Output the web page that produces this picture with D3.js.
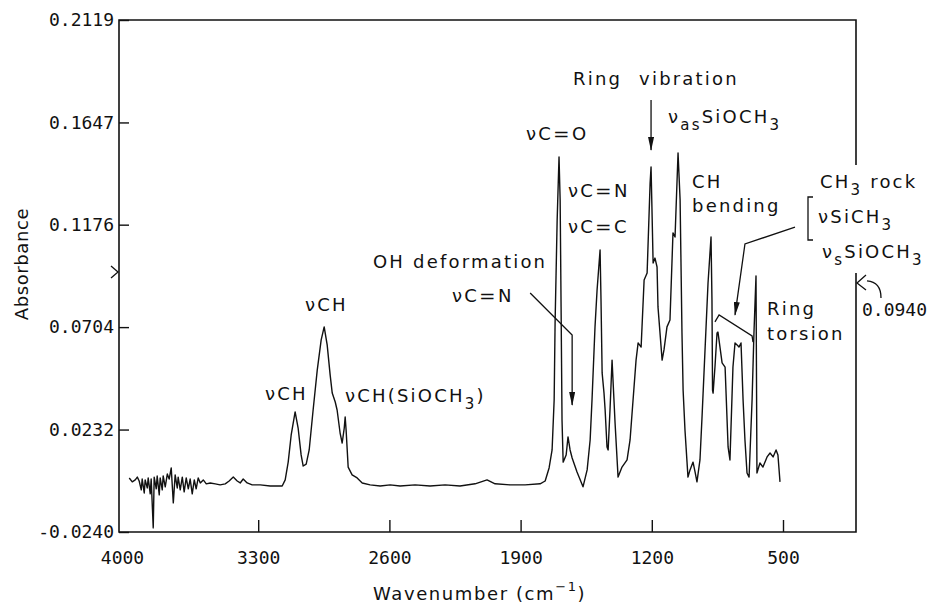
<!DOCTYPE html>
<html>
<head>
<meta charset="utf-8">
<script src="https://cdnjs.cloudflare.com/ajax/libs/d3/7.8.5/d3.min.js"></script>
<style>
  html, body { margin: 0; padding: 0; background: #fff; }
  svg { display: block; }
  .tick text { font-family: "DejaVu Sans Mono", monospace; font-size: 18px; fill: #111; }
  .note { font-family: "DejaVu Sans", sans-serif; font-size: 18px; letter-spacing: 2.2px; fill: #111; }
  .mono { font-family: "DejaVu Sans Mono", monospace; font-size: 18px; fill: #111; }
</style>
</head>
<body>
<div id="chart"></div>
<script>
// axis ticks
const yTicks = [0.2119, 0.1647, 0.1176, 0.0704, 0.0232, -0.0240];
const xTicks = [4000, 3300, 2600, 1900, 1200, 500];
const refLevel = 0.0940;

// IR spectrum: [wavenumber (cm-1), absorbance]
const spectrum = [
  [3988, 0.0009], [3972, -0.0009], [3956, 0.0000], [3945, 0.0013], [3935, -0.0005],
  [3924, -0.0046], [3919, 0.0004], [3908, -0.0060], [3903, 0.0000], [3892, -0.0037],
  [3887, 0.0009], [3876, -0.0064], [3871, 0.0004], [3860, -0.0221], [3855, 0.0013],
  [3844, -0.0041], [3839, 0.0018], [3828, -0.0069], [3823, 0.0009], [3812, -0.0046],
  [3807, 0.0018], [3796, -0.0032], [3785, 0.0027], [3775, 0.0004], [3764, 0.0055],
  [3753, -0.0106], [3743, 0.0023], [3732, -0.0037], [3727, 0.0013], [3716, -0.0046],
  [3705, 0.0013], [3695, -0.0055], [3684, 0.0009], [3673, -0.0041], [3663, 0.0004],
  [3652, -0.0064], [3641, 0.0000], [3631, -0.0041], [3620, 0.0009], [3609, -0.0014],
  [3593, 0.0000], [3577, -0.0018], [3556, -0.0014], [3529, -0.0018], [3503, -0.0023],
  [3476, -0.0018], [3455, -0.0005], [3433, 0.0013], [3412, -0.0005], [3396, -0.0014],
  [3380, 0.0004], [3359, -0.0014], [3332, -0.0023], [3289, -0.0023], [3236, -0.0028],
  [3172, -0.0028], [3156, 0.0000], [3140, 0.0082], [3124, 0.0207], [3103, 0.0313],
  [3087, 0.0239], [3071, 0.0115], [3060, 0.0064], [3044, 0.0073], [3028, 0.0138],
  [3007, 0.0322], [2985, 0.0506], [2964, 0.0645], [2948, 0.0705], [2932, 0.0622],
  [2916, 0.0483], [2905, 0.0400], [2889, 0.0359], [2879, 0.0322], [2863, 0.0216],
  [2852, 0.0170], [2841, 0.0239], [2836, 0.0290], [2831, 0.0230], [2820, 0.0059],
  [2799, 0.0023], [2772, 0.0009], [2745, -0.0014], [2703, -0.0023], [2649, -0.0028],
  [2596, -0.0023], [2543, -0.0028], [2463, -0.0023], [2383, -0.0028], [2303, -0.0023],
  [2223, -0.0028], [2143, -0.0018], [2079, 0.0000], [2036, -0.0018], [1956, -0.0023],
  [1876, -0.0023], [1796, -0.0018], [1769, -0.0005], [1748, 0.0055], [1732, 0.0138],
  [1721, 0.0368], [1716, 0.0723], [1705, 0.1197], [1695, 0.1488], [1689, 0.1290],
  [1684, 0.0797], [1679, 0.0276], [1673, 0.0082], [1657, 0.0115], [1647, 0.0198],
  [1636, 0.0138], [1625, 0.0101], [1599, 0.0036], [1567, -0.0032], [1545, 0.0046],
  [1529, 0.0184], [1519, 0.0368], [1503, 0.0705], [1492, 0.0875], [1476, 0.1059],
  [1471, 0.0829], [1465, 0.0493], [1455, 0.0400], [1449, 0.0322], [1439, 0.0152],
  [1433, 0.0138], [1423, 0.0322], [1412, 0.0552], [1407, 0.0460], [1396, 0.0262],
  [1380, 0.0013], [1359, 0.0059], [1332, 0.0092], [1316, 0.0184], [1300, 0.0368],
  [1284, 0.0552], [1273, 0.0631], [1257, 0.0612], [1241, 0.0921], [1225, 0.0953],
  [1209, 0.1368], [1204, 0.1442], [1199, 0.1244], [1193, 0.0999], [1183, 0.1022],
  [1172, 0.0981], [1167, 0.0797], [1145, 0.0552], [1135, 0.0599], [1119, 0.0705],
  [1103, 0.0737], [1087, 0.1138], [1076, 0.1119], [1060, 0.1506], [1049, 0.1290],
  [1039, 0.0677], [1033, 0.0414], [1023, 0.0230], [1007, 0.0013], [996, 0.0046],
  [980, 0.0082], [969, 0.0036], [959, -0.0009], [943, 0.0092], [932, 0.0290],
  [916, 0.0599], [900, 0.0907], [884, 0.1119], [879, 0.0829], [876, 0.0414],
  [873, 0.0400], [863, 0.0520], [852, 0.0677], [847, 0.0681], [825, 0.0539],
  [809, 0.0520], [793, 0.0152], [783, 0.0092], [767, 0.0520], [756, 0.0631],
  [745, 0.0622], [735, 0.0612], [724, 0.0631], [713, 0.0368], [703, 0.0184],
  [692, 0.0032], [681, 0.0013], [665, 0.0368], [655, 0.0677], [644, 0.0940],
  [639, 0.0032], [623, 0.0078], [607, 0.0059], [585, 0.0106], [569, 0.0124],
  [553, 0.0106], [537, 0.0138], [527, 0.0115], [516, -0.0009]
];

const width = 932, height = 605;
const frame = {left: 119, right: 856, top: 20, bottom: 532};

const svg = d3.select('#chart').append('svg')
    .attr('width', width)
    .attr('height', height);

const x = d3.scaleLinear().domain([4000, 500]).range([127, 783]);
const y = d3.scaleLinear().domain([-0.0240, 0.2119]).range([frame.bottom, frame.top]);

const fmt = d => (d < 0 ? '-' : '') + Math.abs(d).toFixed(4);

// arrow head
svg.append('defs').append('marker')
    .attr('id', 'head')
    .attr('viewBox', '0 0 14 6')
    .attr('refX', 13).attr('refY', 3)
    .attr('markerUnits', 'userSpaceOnUse')
    .attr('markerWidth', 14).attr('markerHeight', 6)
    .attr('orient', 'auto')
  .append('path')
    .attr('d', 'M0,0 L14,3 L0,6 Z')
    .attr('fill', '#111');

// frame (right side is broken where the labels sit)
const frameLine = d3.line();
svg.append('path')
    .attr('d', frameLine([[frame.right, 165], [frame.right, frame.top], [frame.left, frame.top],
                          [frame.left, frame.bottom], [frame.right, frame.bottom], [frame.right, 273]]))
    .attr('fill', 'none').attr('stroke', '#111').attr('stroke-width', 1.6);

// axes, ticks pointing inward
const yAxis = svg.append('g')
    .attr('transform', `translate(${frame.left},0)`)
    .call(d3.axisLeft(y).tickValues(yTicks).tickSize(-10).tickPadding(5).tickFormat(fmt));
yAxis.select('.domain').remove();
yAxis.selectAll('.tick line').attr('stroke', '#111').attr('stroke-width', 1.4);

const xAxis = svg.append('g')
    .attr('transform', `translate(0,${frame.bottom})`)
    .call(d3.axisBottom(x).tickValues(xTicks).tickSize(-12).tickPadding(19).tickFormat(d3.format('d')));
xAxis.select('.domain').remove();
xAxis.selectAll('.tick line').attr('stroke', '#111').attr('stroke-width', 1.4)
    .filter(d => d === 4000).remove();
xAxis.selectAll('.tick text').filter(d => d === 4000).attr('dx', -5);

// spectrum
const line = d3.line()
    .x(d => x(d[0]))
    .y(d => y(d[1]));

svg.append('path')
    .datum(spectrum)
    .attr('d', line)
    .attr('fill', 'none')
    .attr('stroke', '#111')
    .attr('stroke-width', 1.4)
    .attr('stroke-linejoin', 'round');

// axis titles
svg.append('text')
    .attr('class', 'note')
    .attr('transform', 'translate(28,264) rotate(-90)')
    .attr('text-anchor', 'middle')
    .style('letter-spacing', '0.6px')
    .text('Absorbance');

const xTitle = svg.append('text').attr('class', 'note').attr('x', 373).attr('y', 600)
    .style('letter-spacing', '1.6px');
xTitle.append('tspan').text('Wavenumber (cm');
xTitle.append('tspan').attr('font-size', 13).attr('dy', -9).text('−1');
xTitle.append('tspan').attr('dy', 9).text(')');

// labels: parts are [text, kind] where kind is 'sub' or 'bond'
function label(px, py, parts) {
  const t = svg.append('text').attr('class', 'note').attr('x', px).attr('y', py);
  let low = false;
  parts.forEach(([s, kind]) => {
    const span = t.append('tspan').text(s);
    if (kind === 'sub') {
      span.attr('font-size', 15);
      if (!low) { span.attr('dy', 7); low = true; }
    } else {
      if (low) { span.attr('dy', -7); low = false; }
      if (kind === 'bond') span.attr('textLength', 19).attr('lengthAdjust', 'spacingAndGlyphs');
    }
  });
  return t;
}

label(265, 400, [['νCH']]);
label(305, 311, [['νCH']]);
label(345, 402, [['νCH(SiOCH'], ['3', 'sub'], [')']]);
label(373, 268, [['OH deformation']]);
label(452, 302, [['νC'], ['=', 'bond'], ['N']]);
label(526, 140, [['νC'], ['=', 'bond'], ['O']]);
label(568, 197, [['νC'], ['=', 'bond'], ['N']]);
label(568, 233, [['νC'], ['=', 'bond'], ['C']]);
label(573, 85, [['Ring'], [' vibration']]).select('tspan:last-child').attr('dx', 9);
label(668, 123, [['ν'], ['as', 'sub'], ['SiOCH'], ['3', 'sub']]);
label(692, 188, [['CH']]);
label(692, 212, [['bending']]);
label(820, 188, [['CH'], ['3', 'sub'], [' rock']]);
label(818, 223, [['νSiCH'], ['3', 'sub']]);
label(822, 258, [['ν'], ['s', 'sub'], ['SiOCH'], ['3', 'sub']]);
label(767, 315, [['Ring']]);
label(767, 340, [['torsion']]);

// reference level marks on both sides of the frame
const yr = y(refLevel);
svg.append('path')
    .attr('d', frameLine([[frame.left - 8, yr - 10], [frame.left - 1, yr - 4], [frame.left - 8, yr + 2]]))
    .attr('fill', 'none').attr('stroke', '#111').attr('stroke-width', 1.3);
svg.append('path')
    .attr('d', frameLine([[frame.right + 10, yr - 1], [frame.right + 1, yr + 7], [frame.right + 10, yr + 14]]))
    .attr('fill', 'none').attr('stroke', '#111').attr('stroke-width', 1.3);
svg.append('path')
    .attr('d', `M${frame.right + 11},${yr + 5} Q${frame.right + 25},${yr + 6} ${frame.right + 25},${yr + 22}`)
    .attr('fill', 'none').attr('stroke', '#111').attr('stroke-width', 1.3);
svg.append('text')
    .attr('class', 'mono')
    .attr('x', frame.right + 6).attr('y', yr + 40)
    .text(fmt(refLevel));

// pointers, anchored in data units
const pointer = pts => svg.append('path')
    .attr('d', d3.line().x(d => x(d[0])).y(d => y(d[1]))(pts))
    .attr('fill', 'none').attr('stroke', '#111').attr('stroke-width', 1.3);

pointer([[1204, 0.1750], [1204, 0.1520]]).attr('marker-end', 'url(#head)');
pointer([[1849, 0.0861], [1625, 0.0668], [1625, 0.0345]]).attr('marker-end', 'url(#head)');
pointer([[436, 0.1165], [703, 0.1087], [756, 0.0760]]).attr('marker-end', 'url(#head)');
pointer([[863, 0.0728], [841, 0.0760], [665, 0.0663], [660, 0.0635]]);

// bracket in front of the CH3 rock group
svg.append('path')
    .attr('d', frameLine([[813, 197], [808, 197], [808, 240], [813, 240]]))
    .attr('fill', 'none').attr('stroke', '#111').attr('stroke-width', 1.3);
</script>
</body>
</html>
